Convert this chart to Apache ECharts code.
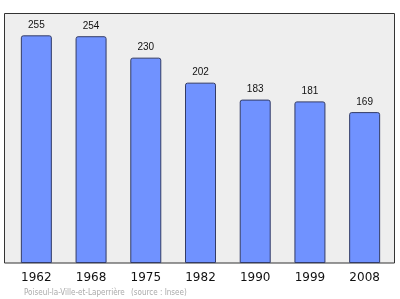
<!DOCTYPE html>
<html><head><meta charset="utf-8">
<script src="https://cdn.jsdelivr.net/npm/echarts@6/dist/echarts.min.js"></script>
<style>html,body{margin:0;padding:0;background:#fff}#c{width:400px;height:299px}</style>
</head><body><div id="c"></div>
<script>
const years = ['1962','1968','1975','1982','1990','1999','2008'];
const population = [255,254,230,202,183,181,169];
const footerPlace = 'Poiseul-la-Ville-et-Laperrière';
const footerSource = '(source : Insee)';

const chart = echarts.init(document.getElementById('c'), null, {renderer:'canvas'});
chart.setOption({
  animation:false,
  grid:{left:9,right:8,top:13,bottom:36,containLabel:false},
  graphic:[
    {type:'rect',shape:{x:4.5,y:13.5,width:390,height:249.5},z:-1,
     style:{fill:'#eeeeee',stroke:'#333',lineWidth:1}},
    {type:'text',x:24,y:289,style:{text:footerPlace,fill:'#aaaaaa',fontSize:8,fontFamily:'DejaVu Sans Condensed, DejaVu Sans'}},
    {type:'text',x:131,y:289,style:{text:footerSource,fill:'#aaaaaa',fontSize:8,fontFamily:'DejaVu Sans Condensed, DejaVu Sans'}}
  ],
  xAxis:{type:'category',data:years,axisTick:{show:false},axisLine:{show:false},
    axisLabel:{fontSize:12,color:'#111',margin:9,fontFamily:'DejaVu Sans'}},
  yAxis:{type:'value',min:0,max:280,show:false,splitLine:{show:false}},
  series:[{type:'bar',data:population,barWidth:31,
    itemStyle:{color:'#7092ff',borderColor:'#333c66',borderWidth:1,borderRadius:[2,2,0,0]},
    label:{show:true,position:'top',distance:5,fontSize:10,color:'#111',fontFamily:'Liberation Sans, Arial'}}]
});
</script></body></html>
